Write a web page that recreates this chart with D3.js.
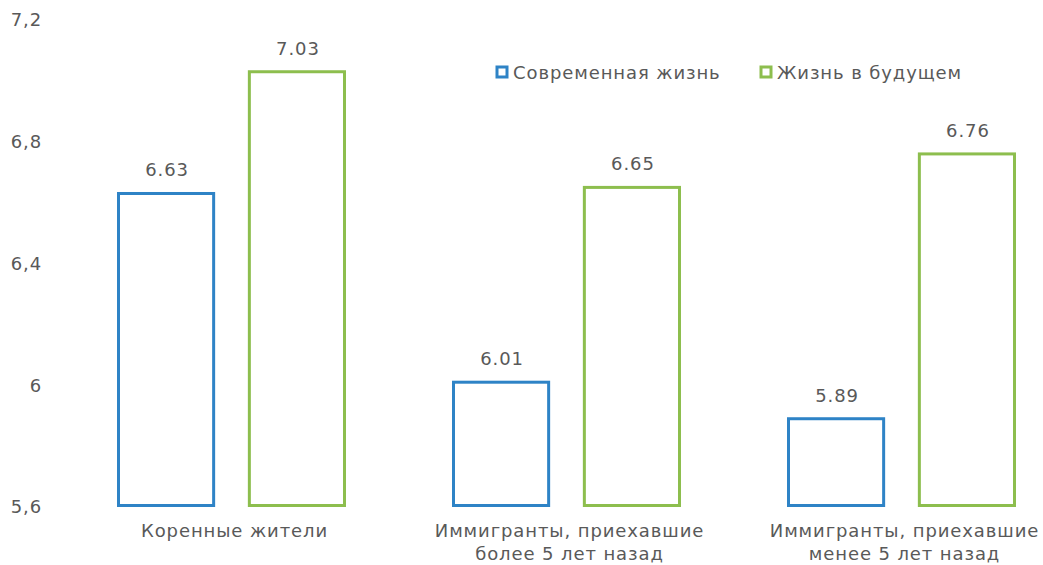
<!DOCTYPE html>
<html>
<head>
<meta charset="utf-8">
<script src="https://cdn.jsdelivr.net/npm/d3@7.9.0/dist/d3.min.js"></script>
<style>
  body { margin: 0; background: #fff; }
  text { font-family: "DejaVu Sans", Verdana, sans-serif; fill: #595959; letter-spacing: 0.9px; }
</style>
</head>
<body>
<svg id="chart" width="1043" height="565"></svg>
<script>
// ---------- Data ----------
const categories = [
  ["Коренные жители"],
  ["Иммигранты, приехавшие", "более 5 лет назад"],
  ["Иммигранты, приехавшие", "менее 5 лет назад"],
];
const seriesNames = ["Современная жизнь", "Жизнь в будущем"];
const currentLife = [6.63, 6.01, 5.89];
const futureLife = [7.03, 6.65, 6.76];
const yTicks = [5.6, 6.0, 6.4, 6.8, 7.2];

const colors = ["#2E83C6", "#8DBE4E"];
const fontSize = 18;

// ---------- Layout ----------
const svg = d3.select("#chart");
const yBottom = 507, yTop = 20;

const x0 = d3.scaleBand().domain(d3.range(categories.length)).range([64, 1069]).padding(0);
const x1 = d3.scaleBand().domain([0, 1]).range([53, 282]).paddingInner(0.25).paddingOuter(0);
const y = d3.scaleLinear().domain([5.6, 7.2]).range([yBottom, yTop]);

// y axis labels
const yAxis = d3.axisLeft(y)
  .tickValues(yTicks)
  .tickSize(0)
  .tickPadding(0)
  .tickFormat((d) => d3.format("~g")(d).replace(".", ","));

svg.append("g")
  .attr("transform", "translate(42,0)")
  .call(yAxis)
  .call((g) => g.select(".domain").remove())
  .call((g) => g.selectAll("text")
    .attr("font-size", fontSize)
    .attr("fill", "#595959")
    .attr("font-family", "'DejaVu Sans', Verdana, sans-serif"));

// bars
const rows = categories.map((c, i) => ({ i, values: [currentLife[i], futureLife[i]] }));

const groups = svg.append("g").selectAll("g")
  .data(rows)
  .join("g")
  .attr("transform", (d) => `translate(${x0(d.i)},0)`);

groups.selectAll("rect")
  .data((d) => d.values.map((v, s) => ({ v, s })))
  .join("rect")
  .attr("x", (d) => x1(d.s) + 1.5)
  .attr("y", (d) => y(d.v))
  .attr("width", x1.bandwidth() - 3)
  .attr("height", (d) => yBottom - y(d.v) - 1.5)
  .attr("fill", "none")
  .attr("stroke", (d) => colors[d.s])
  .attr("stroke-width", 3);

groups.selectAll("text.val")
  .data((d) => d.values.map((v, s) => ({ v, s })))
  .join("text")
  .attr("class", "val")
  .attr("x", (d) => x1(d.s) + x1.bandwidth() / 2 + 1)
  .attr("y", (d) => y(d.v) - 17)
  .attr("text-anchor", "middle")
  .attr("font-size", fontSize)
  .text((d) => d.v.toFixed(2));

// category labels
groups.append("text")
  .attr("x", x0.bandwidth() / 2 + 3)
  .attr("y", 537)
  .attr("text-anchor", "middle")
  .attr("font-size", fontSize)
  .selectAll("tspan")
  .data((d) => categories[d.i])
  .join("tspan")
  .attr("x", x0.bandwidth() / 2 + 3)
  .attr("dy", (d, k) => (k === 0 ? 0 : 23))
  .text((d) => d);

// legend
const legendX = [496, 760];
const legend = svg.append("g").selectAll("g")
  .data(seriesNames)
  .join("g")
  .attr("transform", (d, i) => `translate(${legendX[i]},66)`);

legend.append("rect")
  .attr("x", 1)
  .attr("y", 1)
  .attr("width", 10)
  .attr("height", 10)
  .attr("fill", "none")
  .attr("stroke", (d, i) => colors[i])
  .attr("stroke-width", 3);

legend.append("text")
  .attr("x", 17)
  .attr("y", 13)
  .attr("font-size", fontSize)
  .text((d) => d);
</script>
</body>
</html>
